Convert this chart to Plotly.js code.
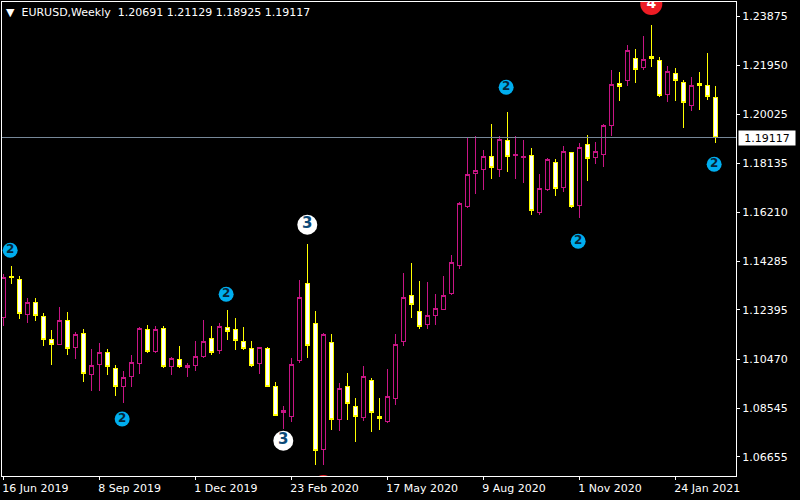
<!DOCTYPE html>
<html><head><meta charset="utf-8">
<script src="https://cdn.plot.ly/plotly-3.0.1.min.js"></script>
<style>html,body{margin:0;padding:0;background:#000}
.boxlayer path,.boxes path,.shapelayer path{shape-rendering:crispEdges !important}</style></head>
<body><div id="chart" style="width:800px;height:500px"></div>
<script>
const dates = ["2019-06-16","2019-06-23","2019-06-30","2019-07-07","2019-07-14","2019-07-21","2019-07-28","2019-08-04","2019-08-11","2019-08-18",
"2019-08-25","2019-09-01","2019-09-08","2019-09-15","2019-09-22","2019-09-29","2019-10-06","2019-10-13","2019-10-20","2019-10-27",
"2019-11-03","2019-11-10","2019-11-17","2019-11-24","2019-12-01","2019-12-08","2019-12-15","2019-12-22","2019-12-29","2020-01-05",
"2020-01-12","2020-01-19","2020-01-26","2020-02-02","2020-02-09","2020-02-16","2020-02-23","2020-03-01","2020-03-08","2020-03-15",
"2020-03-22","2020-03-29","2020-04-05","2020-04-12","2020-04-19","2020-04-26","2020-05-03","2020-05-10","2020-05-17","2020-05-24",
"2020-05-31","2020-06-07","2020-06-14","2020-06-21","2020-06-28","2020-07-05","2020-07-12","2020-07-19","2020-07-26","2020-08-02",
"2020-08-09","2020-08-16","2020-08-23","2020-08-30","2020-09-06","2020-09-13","2020-09-20","2020-09-27","2020-10-04","2020-10-11",
"2020-10-18","2020-10-25","2020-11-01","2020-11-08","2020-11-15","2020-11-22","2020-11-29","2020-12-06","2020-12-13","2020-12-20",
"2020-12-27","2021-01-03","2021-01-10","2021-01-17","2021-01-24","2021-01-31","2021-02-07","2021-02-14","2021-02-21","2021-02-28"];
const opens = [1.12109,1.13710,1.13592,1.12213,1.12694,1.12148,1.11249,1.11041,1.11991,1.10924,
1.11484,1.09870,1.10260,1.10742,1.10117,1.09401,1.09792,1.10299,1.11640,1.10768,
1.11679,1.10182,1.10468,1.10156,1.10221,1.10573,1.11288,1.10807,1.11718,1.11640,
1.11171,1.10898,1.10299,1.10898,1.09414,1.08399,1.08229,1.10416,1.13436,1.11874,
1.06941,1.11132,1.08112,1.09414,1.08633,1.08190,1.09648,1.08242,1.08034,1.08932,
1.11158,1.12968,1.12343,1.11822,1.12174,1.12421,1.13033,1.14139,1.16430,1.17731,
1.17874,1.18395,1.17874,1.19020,1.18421,1.18343,1.18434,1.16195,1.17093,1.18161,
1.17184,1.18551,1.16469,1.18864,1.18356,1.18473,1.19606,1.21246,1.21363,1.22222,
1.21858,1.22300,1.22144,1.20816,1.21636,1.21285,1.20387,1.21246,1.21168,1.20691];
const highs = [1.13801,1.14113,1.13723,1.12851,1.12851,1.12265,1.11614,1.12499,1.12304,1.11523,
1.11653,1.10859,1.11106,1.10872,1.10247,1.10013,1.10638,1.11718,1.11809,1.11757,
1.11770,1.10547,1.10989,1.10312,1.11171,1.12004,1.11770,1.11887,1.12395,1.12069,
1.11731,1.11184,1.10937,1.10950,1.09583,1.08646,1.10507,1.13566,1.14972,1.12356,
1.11497,1.11458,1.09544,1.09935,1.08958,1.10208,1.09739,1.08958,1.10091,1.11458,
1.13840,1.14230,1.13527,1.13488,1.13020,1.13723,1.14543,1.16600,1.19098,1.19189,
1.18642,1.19658,1.19189,1.20126,1.19189,1.19033,1.18708,1.17705,1.18317,1.18278,
1.18799,1.18551,1.18903,1.19228,1.18955,1.19658,1.21766,1.21688,1.22743,1.22586,
1.23094,1.23524,1.22274,1.21923,1.21845,1.21376,1.21480,1.21688,1.22430,1.21129];
const lows = [1.11770,1.13410,1.12056,1.11900,1.11978,1.11002,1.10260,1.11041,1.10638,1.10481,
1.09583,1.09232,1.09232,1.09857,1.09037,1.08763,1.09388,1.09896,1.10716,1.10716,
1.10130,1.09857,1.10130,1.09778,1.10013,1.10520,1.10638,1.10677,1.11223,1.10833,
1.10833,1.10169,1.09896,1.09401,1.08269,1.07761,1.08021,1.10338,1.10520,1.06342,
1.06342,1.07709,1.07670,1.08099,1.07240,1.08060,1.07631,1.07709,1.07982,1.08685,
1.10989,1.12082,1.11653,1.11653,1.11809,1.12421,1.12981,1.13996,1.16390,1.16924,
1.17080,1.17510,1.17588,1.17783,1.17510,1.17354,1.16104,1.16104,1.17041,1.16846,
1.17002,1.16377,1.15987,1.17432,1.18096,1.17979,1.19189,1.20556,1.21142,1.21259,
1.21766,1.21884,1.20712,1.20517,1.20556,1.19501,1.20165,1.20204,1.20595,1.18925];
const closes = [1.13671,1.13658,1.12265,1.12694,1.12174,1.11236,1.11041,1.11991,1.10885,1.11445,
1.09909,1.10234,1.10742,1.10182,1.09401,1.09765,1.10351,1.11679,1.10768,1.11640,
1.10182,1.10507,1.10182,1.10208,1.10586,1.11171,1.10729,1.11757,1.11549,1.11197,
1.10885,1.10221,1.10937,1.09401,1.08269,1.08477,1.10273,1.12890,1.11002,1.06902,
1.11445,1.08112,1.09336,1.08737,1.08229,1.09805,1.08386,1.08151,1.09023,1.11054,
1.12890,1.12603,1.11744,1.12187,1.12460,1.12968,1.14256,1.16560,1.17692,1.17848,
1.18395,1.17953,1.19059,1.18382,1.18473,1.18395,1.16273,1.17145,1.18278,1.17132,
1.18590,1.16430,1.18747,1.18317,1.18590,1.19606,1.21207,1.21116,1.22534,1.21792,
1.22183,1.22209,1.20764,1.21714,1.21363,1.20504,1.21155,1.21168,1.20738,1.19117];

const wave2Dates = ["2019-06-22","2019-09-28","2019-12-28","2020-08-29","2020-10-31","2021-02-27"];
const wave2Prices = [1.14726,1.08138,1.13008,1.21091,1.15077,1.18084];
const wave3Dates = ["2020-02-16","2020-03-08"];
const wave3Prices = [1.07290,1.15725];
const wave4Dates = ["2021-01-03"];
const wave4Prices = [1.24344];
const hiddenDates = ["2020-03-22"];
const hiddenPrices = [1.05522];

const xTickVals = ["2019-06-16","2019-09-08","2019-12-01","2020-02-23","2020-05-17","2020-08-09","2020-11-01","2021-01-24"];
const xTickText = ["16 Jun 2019","8 Sep 2019","1 Dec 2019","23 Feb 2020","17 May 2020","9 Aug 2020","1 Nov 2020","24 Jan 2021"];
const yTickVals = [1.23875,1.21950,1.20025,1.18135,1.16210,1.14285,1.12395,1.10470,1.08545,1.06655];
const yTickText = ["1.23875","1.21950","1.20025","1.18135","1.16210","1.14285","1.12395","1.10470","1.08545","1.06655"];
const lastPrice = 1.19117;
const chartTitle = "▼\u00a0 EURUSD,Weekly\u00a0 1.20691 1.21129 1.18925 1.19117";

const FONT = "DejaVu Sans, Tahoma, sans-serif";
function badge(x, y, label, fill, size, textColor, fontSize) {
  return {type:"scatter", mode:"markers+text", x:x, y:y,
    text:x.map(()=>label), textposition:"middle center",
    textfont:{family:FONT, size:fontSize, color:textColor, weight:700},
    marker:{color:fill, size:size, line:{width:0}}, showlegend:false, hoverinfo:"x+y"};
}
const traces = [
  {type:"candlestick", x:dates, open:opens, high:highs, low:lows, close:closes,
   increasing:{line:{color:"#C71585", width:1}, fillcolor:"#000000"},
   decreasing:{line:{color:"#FFFF00", width:1}, fillcolor:"#FFFFFF"},
   whiskerwidth:0, showlegend:false},
  badge(wave2Dates, wave2Prices, "2", "#00AEEF", 15, "#06263A", 12),
  badge(wave3Dates, wave3Prices, "3", "#FFFFFF", 20, "#0B4A78", 15),
  badge(wave4Dates, wave4Prices, "4", "#ED1C24", 22, "#FFFFFF", 14),
  {type:"scatter", mode:"markers", x:hiddenDates, y:hiddenPrices, marker:{color:"#ED1C24", size:22, line:{width:0}}, showlegend:false}
];
const layout = {
  width:800, height:500, paper_bgcolor:"#000", plot_bgcolor:"#000",
  margin:{l:2,r:64,t:2,b:24,pad:0}, showlegend:false, boxgap:0.3,
  font:{family:FONT, size:11, color:"#fff"},
  title:{text:chartTitle, x:6/800, xref:"container", xanchor:"left", y:1-12.5/500, yref:"container", yanchor:"middle",
         font:{family:FONT, size:11, color:"#fff"}, pad:{t:0,b:0,l:0,r:0}},
  xaxis:{type:"date", range:["2019-06-14 20:40","2021-03-18 02:40"], rangeslider:{visible:false},
    tickmode:"array", tickvals:xTickVals, ticktext:xTickText, ticks:"outside", ticklen:3, tickwidth:1, tickcolor:"#fff",
    ticklabelposition:"outside right", ticklabelshift:-2, ticklabelstandoff:2,
    showgrid:false, zeroline:false, showline:true, linecolor:"#fff", linewidth:1, mirror:true,
    tickfont:{family:FONT,size:11,color:"#fff"}},
  yaxis:{side:"right", range:[1.05912,1.24422], tickmode:"array", tickvals:yTickVals, ticktext:yTickText,
    ticks:"outside", ticklen:3, tickwidth:1, tickcolor:"#fff", showgrid:false, zeroline:false,
    showline:true, linecolor:"#fff", linewidth:1, mirror:true, tickfont:{family:FONT,size:11,color:"#fff"}},
  shapes:[{type:"line", xref:"paper", x0:0, x1:1, yref:"y", y0:lastPrice, y1:lastPrice, layer:"above",
           line:{color:"#778899", width:1}}],
  annotations:[{xref:"paper", x:736/734, xanchor:"left", yref:"y", y:lastPrice, yanchor:"middle", showarrow:false,
    text:lastPrice.toFixed(5), bgcolor:"#fff", font:{family:FONT,size:11,color:"#000"}, width:56, height:14, borderpad:0, align:"center"}]
};
Plotly.newPlot("chart", traces, layout, {displayModeBar:false, staticPlot:true});
</script></body></html>
